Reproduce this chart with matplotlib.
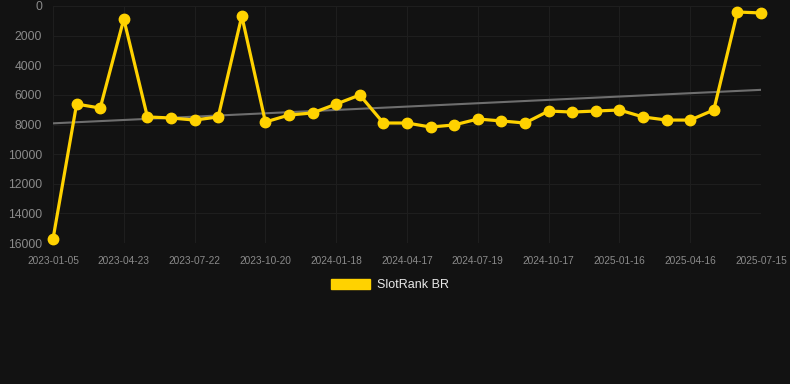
import matplotlib
matplotlib.use("Agg")
import matplotlib.pyplot as plt
from matplotlib.patches import Patch
import numpy as np

plt.rcParams['font.family'] = ['Liberation Sans', 'DejaVu Sans']

# rank values (lower is better), one point per step
rank = [15730, 6620, 6890, 880, 7490, 7560, 7700, 7490, 675, 7830,
        7360, 7220, 6620, 6010, 7900, 7900, 8170, 8030, 7630, 7760,
        7900, 7090, 7160, 7090, 7020, 7490, 7700, 7700, 7020, 405, 470]
tick_labels = ['2023-01-05', '2023-04-23', '2023-07-22', '2023-10-20',
               '2024-01-18', '2024-04-17', '2024-07-19', '2024-10-17',
               '2025-01-16', '2025-04-16', '2025-07-15']
y_ticks = [0, 2000, 4000, 6000, 8000, 10000, 12000, 14000, 16000]

bg = '#121212'
gold = '#ffd200'

fig = plt.figure(figsize=(7.9, 3.84), dpi=100, facecolor=bg)
ax = fig.add_axes([53/790, 1-243/384, (761-53)/790, (243-6)/384])
ax.set_facecolor(bg)

x = np.arange(len(rank))

# trend line (least squares)
k, b = np.polyfit(x, rank, 1)
ax.plot(x, k*x + b, color='#6e6e6e', linewidth=1.5, zorder=2)

ax.plot(x, rank, color=gold, linewidth=2.3, marker='o', markersize=7.5,
        clip_on=False, zorder=3)

ax.set_xlim(0, len(rank) - 1)
ax.set_ylim(16000, 0)
ax.set_yticks(y_ticks)
ax.set_yticklabels([str(v) for v in y_ticks])
ax.set_xticks(x[::3])
ax.set_xticklabels(tick_labels)

ax.grid(True, color='#1e1e1e', linewidth=0.8)
ax.set_axisbelow(True)
for s in ax.spines.values():
    s.set_visible(False)
ax.tick_params(axis='y', length=0, pad=8, labelsize=8.7, labelcolor='#8a8a8a')
ax.tick_params(axis='x', length=0, pad=9, labelsize=7.3, labelcolor='#8a8a8a')

fig.legend(handles=[Patch(facecolor=gold, edgecolor=gold, label='SlotRank BR')],
           loc='center', bbox_to_anchor=(0.494, 1-285/384), frameon=False,
           handlelength=3.1, handleheight=0.9, handletextpad=0.55,
           fontsize=9, labelcolor='#e8e8e8')

fig.savefig('out.png', dpi=100, facecolor=bg)
